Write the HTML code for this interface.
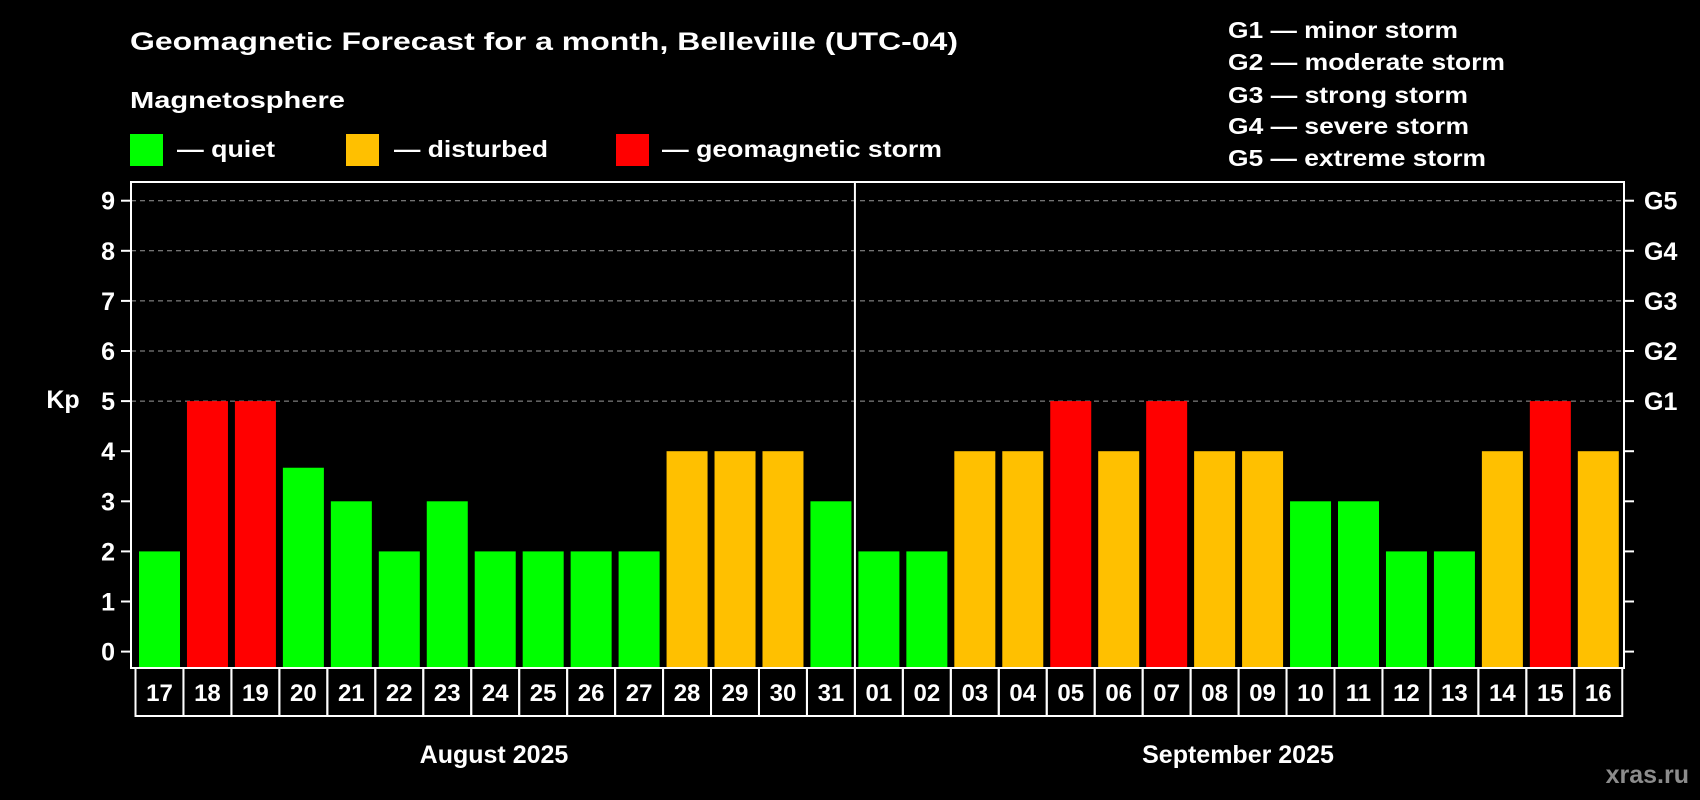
<!DOCTYPE html>
<html><head><meta charset="utf-8"><style>
html,body{margin:0;padding:0;background:#000;}
svg{display:block;font-family:"Liberation Sans",Arial,sans-serif;font-weight:bold;}
</style></head><body>
<svg id="chart" width="1700" height="800" viewBox="0 0 1700 800">
<rect x="0" y="0" width="1700" height="800" fill="#000"/>
<text x="130" y="50" fill="#fff" font-size="25" textLength="828" lengthAdjust="spacingAndGlyphs">Geomagnetic Forecast for a month, Belleville (UTC-04)</text>
<text x="130" y="108" fill="#fff" font-size="23" textLength="215" lengthAdjust="spacingAndGlyphs">Magnetosphere</text>
<g>
<rect x="130" y="134" width="33" height="32" fill="#00ff00"/>
<text x="177" y="157" fill="#fff" font-size="23" textLength="98" lengthAdjust="spacingAndGlyphs">— quiet</text></g>
<g>
<rect x="346" y="134" width="33" height="32" fill="#ffc000"/>
<text x="394" y="157" fill="#fff" font-size="23" textLength="154" lengthAdjust="spacingAndGlyphs">— disturbed</text></g>
<g>
<rect x="616" y="134" width="33" height="32" fill="#ff0000"/>
<text x="662" y="157" fill="#fff" font-size="23" textLength="280" lengthAdjust="spacingAndGlyphs">— geomagnetic storm</text></g>
<g fill="#fff" font-size="23">
<text x="1228" y="38" textLength="230" lengthAdjust="spacingAndGlyphs">G1 — minor storm</text>
<text x="1228" y="70" textLength="277" lengthAdjust="spacingAndGlyphs">G2 — moderate storm</text>
<text x="1228" y="103" textLength="240" lengthAdjust="spacingAndGlyphs">G3 — strong storm</text>
<text x="1228" y="134" textLength="241" lengthAdjust="spacingAndGlyphs">G4 — severe storm</text>
<text x="1228" y="166" textLength="258" lengthAdjust="spacingAndGlyphs">G5 — extreme storm</text>
</g>
<text x="63" y="408" fill="#fff" font-size="25" text-anchor="middle">Kp</text>
<g id="grid"></g><g id="bars"></g><g id="axes"></g>
<text x="494" y="763" fill="#fff" font-size="25" text-anchor="middle">August 2025</text>
<text x="1238" y="763" fill="#fff" font-size="25" text-anchor="middle">September 2025</text>
<text x="1689" y="783" fill="#8c8c8c" font-size="25" text-anchor="end">xras.ru</text>
</svg>
<script>
const days = ["17","18","19","20","21","22","23","24","25","26","27","28","29","30","31","01","02","03","04","05","06","07","08","09","10","11","12","13","14","15","16"];
const kpValues = [2,5,5,3.67,3,2,3,2,2,2,2,4,4,4,3,2,2,4,4,5,4,5,4,4,3,3,2,2,4,5,4];
const yTicks = [0,1,2,3,4,5,6,7,8,9];
const gLabels = ["G1","G2","G3","G4","G5"];
const gLevels = [5,6,7,8,9];

const NS="http://www.w3.org/2000/svg";
const plotL=131, plotR=1624, plotT=182, plotB=668;
const y0=651.6, unit=50.1;
const firstX=139, pitch=47.96, barW=41;
function yScale(v){return y0 - v*unit;}
function xScale(i){return firstX + i*pitch;}
function mk(tag,attrs,parent){const e=document.createElementNS(NS,tag);for(const k in attrs)e.setAttribute(k,attrs[k]);parent.appendChild(e);return e;}
function color(v){return v>=5?"#ff0000":(v>=4?"#ffc000":"#00ff00");}

const grid=document.getElementById('grid'), bars=document.getElementById('bars'), axes=document.getElementById('axes');
yTicks.forEach(t=>{
  if(t>=5){
    const l=mk('line',{x1:plotL,x2:plotR,y1:yScale(t),y2:yScale(t),stroke:"#9a9a9a","stroke-width":1,"stroke-dasharray":"5,4"},grid);
    
    
  }
  const tk=mk('line',{x1:plotL-10,x2:plotL,y1:yScale(t),y2:yScale(t),stroke:"#fff","stroke-width":2},axes);
  
  
  const tr=mk('line',{x1:plotR,x2:plotR+10,y1:yScale(t),y2:yScale(t),stroke:"#fff","stroke-width":2},axes);
  
  
  const tx=mk('text',{x:115,y:yScale(t)+9,fill:"#fff","font-size":25,"text-anchor":"end"},axes);
  tx.textContent=t;
  
  
});
gLabels.forEach((g,i)=>{
  const tx=mk('text',{x:1644,y:yScale(gLevels[i])+9,fill:"#fff","font-size":25},axes);
  tx.textContent=g;
  
  
});
kpValues.forEach((v,i)=>{
  const r=mk('rect',{x:xScale(i),y:yScale(v),width:barW,height:plotB-1-yScale(v),fill:color(v)},bars);
  
  
});
const frame=mk('rect',{x:plotL,y:plotT,width:plotR-plotL,height:plotB-plotT,fill:"none",stroke:"#fff","stroke-width":2},axes);


const divX=(xScale(14)+barW+xScale(15))/2;
const dv=mk('line',{x1:divX,x2:divX,y1:plotT,y2:plotB,stroke:"#fff","stroke-width":2},axes);


days.forEach((d,i)=>{
  const bx=xScale(i)-3.5;
  const b=mk('rect',{x:bx,y:plotB,width:pitch,height:48,fill:"none",stroke:"#fff","stroke-width":2},axes);
  
  
  const t=mk('text',{x:bx+pitch/2,y:701,fill:"#fff","font-size":24,"text-anchor":"middle"},axes);
  t.textContent=d;
  
  
});
</script>
</body></html>
